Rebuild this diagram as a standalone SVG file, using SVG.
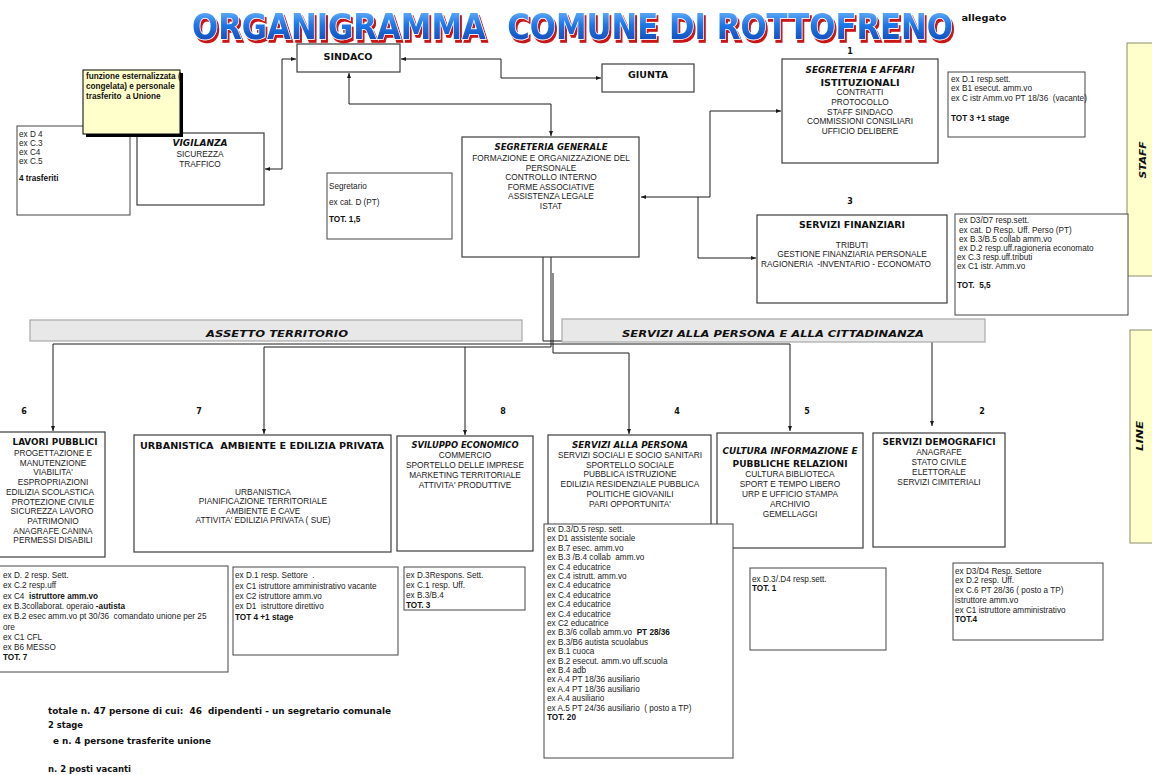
<svg xmlns="http://www.w3.org/2000/svg" width="1152" height="775" viewBox="0 0 1152 775">
<defs>
<linearGradient id="tg" x1="0" y1="0" x2="0" y2="1">
<stop offset="0" stop-color="#7cc2ff"/>
<stop offset="0.45" stop-color="#1f78e8"/>
<stop offset="1" stop-color="#0b3da8"/>
</linearGradient>
<filter id="sh" x="-2%" y="-20%" width="104%" height="150%">
<feOffset in="SourceAlpha" dx="2.2" dy="2.6" result="o"/>
<feFlood flood-color="#c81414"/>
<feComposite in2="o" operator="in" result="s"/>
<feMerge><feMergeNode in="s"/><feMergeNode in="SourceGraphic"/></feMerge>
</filter>
<marker id="ah" viewBox="0 0 10 10" refX="10" refY="5" markerWidth="5" markerHeight="5" markerUnits="userSpaceOnUse" orient="auto-start-reverse">
<path d="M0,1 L10,5 L0,9 z" fill="#1a1a1a"/>
</marker>
<style>
.bx{fill:#fff;stroke:#3c3c3c;stroke-width:1.2}
.sb{fill:#fff;stroke:#444;stroke-width:1}
.bar{fill:#e8e8e8;stroke:#a8a8a8;stroke-width:1.2}
.yel{fill:#ffffcc;stroke:#8c8c6a;stroke-width:1}
.cn{fill:none;stroke:#1a1a1a;stroke-width:1}
.ar{marker-end:url(#ah)}
.ar2{marker-start:url(#ah);marker-end:url(#ah)}
.h{font-family:"DejaVu Sans","Liberation Sans",sans-serif;font-weight:bold;fill:#111;text-anchor:middle;font-size:9px}
.hi{font-style:italic}
.t{font-family:"Liberation Sans",Arial,sans-serif;font-size:8.3px;fill:#222;text-anchor:middle}
.l{font-family:"Liberation Sans",Arial,sans-serif;font-size:8.2px;fill:#222}
.b{font-weight:bold;fill:#111}
.ttl{font-family:"DejaVu Sans","Liberation Sans",sans-serif;font-weight:bold;font-size:36px}
.num{font-family:"DejaVu Sans",sans-serif;font-weight:bold;font-size:8px;fill:#111;text-anchor:middle}
.tot{font-family:"DejaVu Sans",sans-serif;font-weight:bold;font-size:8.5px;fill:#111}
</style>
</defs>
<rect width="1152" height="775" fill="#fff"/>

<g id="title">
<text class="ttl" transform="translate(192,39) scale(0.856,1)" x="0" y="0" fill="url(#tg)" stroke="#ffffff" stroke-width="1.4" paint-order="stroke" filter="url(#sh)" textLength="889" lengthAdjust="spacingAndGlyphs" xml:space="preserve">ORGANIGRAMMA  COMUNE DI ROTTOFRENO</text>
<text class="h" x="984" y="21" font-size="9.5" textLength="45" lengthAdjust="spacingAndGlyphs">allegato</text>
</g>

<g id="staff-band">
<rect class="yel" x="1127" y="43" width="30" height="233"/>
<text class="h hi" transform="translate(1146,160) rotate(-90)" font-size="10.5" textLength="37" lengthAdjust="spacingAndGlyphs">STAFF</text>
</g>
<g id="line-band">
<rect class="yel" x="1130" y="330" width="30" height="213"/>
<text class="h hi" transform="translate(1143,436) rotate(-90)" font-size="10.5" textLength="30" lengthAdjust="spacingAndGlyphs">LINE</text>
</g>

<g id="connectors">
<path class="cn ar2" d="M401,59 H501 V78 H601"/>
<path class="cn ar2" d="M349,73 V104 H551 V136"/>
<path class="cn ar2" d="M296,59 H282 V169 H265"/>
<path class="cn ar2" d="M641,197 H710 V111 H781"/>
<path class="cn ar" d="M698,197 V258 H756"/>
<path class="cn ar" d="M543,253 V341 H932 V426"/>
<path class="cn ar" d="M551,257 V344 H53 V431"/>
<path class="cn ar" d="M551,344 H790 V431"/>
<path class="cn ar" d="M551,344 V347 H264 V434"/>
<path class="cn ar" d="M465,347 V435"/>
<path class="cn ar" d="M553,273 V353 H629 V434"/>
</g>

<g id="sindaco">
<rect class="bx" x="297" y="44" width="103" height="28"/>
<text class="h" x="348" y="60" font-size="9.5" textLength="49" lengthAdjust="spacingAndGlyphs">SINDACO</text>
</g>

<g id="giunta">
<rect class="bx" x="602" y="64" width="92" height="28"/>
<text class="h" x="648" y="78" textLength="40" lengthAdjust="spacingAndGlyphs">GIUNTA</text>
</g>

<g id="trasferiti">
<rect class="sb" x="17" y="126" width="113" height="89"/>
<text class="l" x="19" y="136.5">ex D 4</text>
<text class="l" x="19" y="145.5">ex C.3</text>
<text class="l" x="19" y="154.5">ex C4</text>
<text class="l" x="19" y="163.5">ex C.5</text>
<text class="l b" x="19" y="181">4 trasferiti</text>
</g>

<g id="vigilanza">
<rect class="bx" x="137" y="133" width="127" height="72"/>
<text class="h hi" x="200" y="146" font-size="9.5" textLength="55" lengthAdjust="spacingAndGlyphs">VIGILANZA</text>
<text class="t" x="200" y="157">SICUREZZA</text>
<text class="t" x="200" y="167">TRAFFICO</text>
</g>

<g id="nota-unione">
<rect x="86" y="73" width="97" height="64" fill="#000"/>
<rect x="83" y="70" width="97" height="64" fill="#ffffcc" stroke="#000" stroke-width="1"/>
<text class="l b" x="86" y="78.5" font-size="8">funzione esternalizzata (</text>
<text class="l b" x="86" y="88.5" font-size="8">congelata) e personale</text>
<text class="l b" x="86" y="98.5" font-size="8" xml:space="preserve">trasferito  a Unione</text>
</g>

<g id="segretario">
<rect class="sb" x="327" y="173" width="125" height="66"/>
<text class="l" x="329" y="189" font-size="8.7">Segretario</text>
<text class="l" x="329" y="205" font-size="8.7">ex cat. D (PT)</text>
<text class="l b" x="329" y="222" font-size="8.7">TOT. 1,5</text>
</g>

<g id="segreteria-generale">
<rect class="bx" x="462" y="137" width="177" height="120"/>
<text class="h hi" x="551" y="150" font-size="9.5" textLength="113" lengthAdjust="spacingAndGlyphs">SEGRETERIA GENERALE</text>
<text class="t" x="551" y="161">FORMAZIONE E ORGANIZZAZIONE DEL</text>
<text class="t" x="551" y="170.6">PERSONALE</text>
<text class="t" x="551" y="180.2">CONTROLLO INTERNO</text>
<text class="t" x="551" y="189.8">FORME ASSOCIATIVE</text>
<text class="t" x="551" y="199.4">ASSISTENZA LEGALE</text>
<text class="t" x="551" y="209">ISTAT</text>
</g>

<g id="segreteria-affari">
<text class="num" x="850" y="54">1</text>
<rect class="bx" x="782" y="59" width="156" height="104"/>
<text class="h hi" x="860" y="73" font-size="10" textLength="109" lengthAdjust="spacingAndGlyphs">SEGRETERIA E AFFARI</text>
<text class="h" x="860" y="85.5" font-size="10" textLength="79" lengthAdjust="spacingAndGlyphs">ISTITUZIONALI</text>
<text class="t" x="860" y="95">CONTRATTI</text>
<text class="t" x="860" y="104.8">PROTOCOLLO</text>
<text class="t" x="860" y="114.6">STAFF SINDACO</text>
<text class="t" x="860" y="124.4">COMMISSIONI CONSILIARI</text>
<text class="t" x="860" y="134.2">UFFICIO DELIBERE</text>
</g>

<g id="staff-affari">
<rect class="sb" x="948" y="72" width="137" height="65"/>
<text class="l" x="951" y="82" font-size="7.9">ex D.1 resp.sett.</text>
<text class="l" x="951" y="91" font-size="7.9">ex B1 esecut. amm.vo</text>
<text class="l" x="951" y="100.5" font-size="7.9" xml:space="preserve">ex C istr Amm.vo PT 18/36  (vacante)</text>
<text class="l b" x="951" y="121" font-size="7.9">TOT 3 +1 stage</text>
</g>

<g id="servizi-finanziari">
<text class="num" x="850" y="204">3</text>
<rect class="bx" x="757" y="215" width="190" height="88"/>
<text class="h" x="852" y="228" font-size="10" textLength="106" lengthAdjust="spacingAndGlyphs">SERVIZI FINANZIARI</text>
<text class="t" x="852" y="247.5">TRIBUTI</text>
<text class="t" x="852" y="257">GESTIONE FINANZIARIA PERSONALE</text>
<text class="t" x="846" y="266.5" xml:space="preserve">RAGIONERIA  -INVENTARIO - ECONOMATO</text>
</g>

<g id="staff-finanziari">
<rect class="sb" x="955" y="214" width="173" height="101"/>
<text class="l" x="959" y="223">ex D3/D7 resp.sett.</text>
<text class="l" x="959" y="233">ex cat. D Resp. Uff. Perso (PT)</text>
<text class="l" x="959" y="242">ex B.3/B.5 collab amm.vo</text>
<text class="l" x="959" y="251">ex D.2 resp.uff.ragioneria economato</text>
<text class="l" x="957" y="260">ex C.3 resp.uff.tributi</text>
<text class="l" x="957" y="269">ex C1 istr. Amm.vo</text>
<text class="l b" x="957" y="288" xml:space="preserve">TOT.  5,5</text>
</g>

<g id="assetto-territorio">
<rect class="bar" x="30" y="320" width="492" height="21"/>
<text class="h hi" x="277" y="337" font-size="11" textLength="142" lengthAdjust="spacingAndGlyphs">ASSETTO TERRITORIO</text>
</g>

<g id="servizi-cittadinanza">
<rect class="bar" x="562" y="319" width="423" height="23"/>
<text class="h hi" x="773" y="337" font-size="11" textLength="302" lengthAdjust="spacingAndGlyphs">SERVIZI ALLA PERSONA E ALLA CITTADINANZA</text>
</g>

<g id="numeri">
<text class="num" x="24" y="414">6</text>
<text class="num" x="199" y="414">7</text>
<text class="num" x="503" y="414">8</text>
<text class="num" x="677" y="414">4</text>
<text class="num" x="807" y="414">5</text>
<text class="num" x="982" y="414">2</text>
</g>

<g id="lavori-pubblici">
<rect class="bx" x="-10" y="432" width="115" height="125"/>
<text class="h" x="55" y="445" textLength="85" lengthAdjust="spacingAndGlyphs">LAVORI PUBBLICI</text>
<text class="t" x="53" y="456">PROGETTAZIONE E</text>
<text class="t" x="53" y="465.7">MANUTENZIONE</text>
<text class="t" x="53" y="475.4">VIABILITA'</text>
<text class="t" x="53" y="485.1">ESPROPRIAZIONI</text>
<text class="t" x="50" y="494.8">EDILIZIA SCOLASTICA</text>
<text class="t" x="53" y="504.5">PROTEZIONE CIVILE</text>
<text class="t" x="52" y="514.2">SICUREZZA LAVORO</text>
<text class="t" x="53" y="523.9">PATRIMONIO</text>
<text class="t" x="53" y="533.6">ANAGRAFE CANINA</text>
<text class="t" x="53" y="543.3">PERMESSI DISABILI</text>
</g>

<g id="personale-lavori">
<rect class="sb" x="-10" y="566" width="238" height="106"/>
<text class="l" x="3" y="578">ex D. 2 resp. Sett.</text>
<text class="l" x="3" y="588.3">ex C.2 resp.uff</text>
<text class="l" x="3" y="598.6" xml:space="preserve">ex C4  <tspan class="b">istruttore amm.vo</tspan></text>
<text class="l" x="3" y="608.9">ex B.3collaborat. operaio <tspan class="b">-autista</tspan></text>
<text class="l" x="3" y="619.2" xml:space="preserve">ex B.2 esec amm.vo pt 30/36  comandato unione per 25</text>
<text class="l" x="3" y="629.5">ore</text>
<text class="l" x="3" y="639.8">ex C1 CFL</text>
<text class="l" x="3" y="650.1">ex B6 MESSO</text>
<text class="l b" x="3" y="660.4">TOT. 7</text>
</g>

<g id="urbanistica">
<rect class="bx" x="134" y="435" width="257" height="117"/>
<text class="h" x="262" y="449" font-size="8.7" textLength="244" lengthAdjust="spacingAndGlyphs" xml:space="preserve">URBANISTICA  AMBIENTE E EDILIZIA PRIVATA</text>
<text class="t" x="263" y="494.5">URBANISTICA</text>
<text class="t" x="263" y="504">PIANIFICAZIONE TERRITORIALE</text>
<text class="t" x="263" y="513.5">AMBIENTE E CAVE</text>
<text class="t" x="263" y="523">ATTIVITA' EDILIZIA PRIVATA ( SUE)</text>
</g>

<g id="personale-urbanistica">
<rect class="sb" x="233" y="567" width="165" height="88"/>
<text class="l" x="235" y="578" xml:space="preserve">ex D.1 resp. Settore  .</text>
<text class="l" x="235" y="588.5">ex C1 istruttore amministrativo vacante</text>
<text class="l" x="235" y="598.7">ex C2 istruttore amm.vo</text>
<text class="l" x="235" y="608.8" xml:space="preserve">ex D1  istruttore direttivo</text>
<text class="l b" x="235" y="619.5">TOT 4 +1 stage</text>
</g>

<g id="sviluppo-economico">
<rect class="bx" x="397" y="436" width="136" height="115"/>
<text class="h hi" x="465" y="448" textLength="107" lengthAdjust="spacingAndGlyphs">SVILUPPO ECONOMICO</text>
<text class="t" x="465" y="458">COMMERCIO</text>
<text class="t" x="465" y="468">SPORTELLO DELLE IMPRESE</text>
<text class="t" x="465" y="478">MARKETING TERRITORIALE</text>
<text class="t" x="465" y="487.5">ATTIVITA' PRODUTTIVE</text>
</g>

<g id="personale-sviluppo">
<rect class="sb" x="404" y="567" width="121" height="43"/>
<text class="l" x="406" y="578">ex D.3Respons. Sett.</text>
<text class="l" x="406" y="588">ex C.1 resp. Uff.</text>
<text class="l" x="406" y="598">ex B.3/B.4</text>
<text class="l b" x="406" y="607.5">TOT. 3</text>
</g>

<g id="servizi-persona">
<rect class="bx" x="548" y="435" width="163" height="115"/>
<text class="h hi" x="630" y="448" textLength="116" lengthAdjust="spacingAndGlyphs">SERVIZI ALLA PERSONA</text>
<text class="t" x="630" y="457.5">SERVIZI SOCIALI E SOCIO SANITARI</text>
<text class="t" x="630" y="467.5">SPORTELLO SOCIALE</text>
<text class="t" x="630" y="477">PUBBLICA ISTRUZIONE</text>
<text class="t" x="630" y="487">EDILIZIA RESIDENZIALE PUBBLICA</text>
<text class="t" x="630" y="497">POLITICHE GIOVANILI</text>
<text class="t" x="630" y="507">PARI OPPORTUNITA'</text>
</g>

<g id="cultura">
<rect class="bx" x="717" y="433" width="146" height="115"/>
<text class="h hi" x="790" y="454" textLength="135" lengthAdjust="spacingAndGlyphs">CULTURA INFORMAZIONE E</text>
<text class="h" x="790" y="467" textLength="115" lengthAdjust="spacingAndGlyphs">PUBBLICHE RELAZIONI</text>
<text class="t" x="790" y="477">CULTURA BIBLIOTECA</text>
<text class="t" x="790" y="487">SPORT E TEMPO LIBERO</text>
<text class="t" x="790" y="497">URP E UFFICIO STAMPA</text>
<text class="t" x="790" y="507">ARCHIVIO</text>
<text class="t" x="790" y="517">GEMELLAGGI</text>
</g>

<g id="personale-persona">
<rect class="sb" x="544" y="524" width="189" height="234"/>
<text class="l" x="547" y="532">ex D.3/D.5 resp. sett.</text>
<text class="l" x="547" y="541.4">ex D1 assistente sociale</text>
<text class="l" x="547" y="550.8">ex B.7 esec. amm.vo</text>
<text class="l" x="547" y="560.2" xml:space="preserve">ex B.3 /B.4 collab  amm.vo</text>
<text class="l" x="547" y="569.6">ex C.4 educatrice</text>
<text class="l" x="547" y="579">ex C.4 istrutt. amm.vo</text>
<text class="l" x="547" y="588.4">ex C.4 educatrice</text>
<text class="l" x="547" y="597.8">ex C.4 educatrice</text>
<text class="l" x="547" y="607.2">ex C.4 educatrice</text>
<text class="l" x="547" y="616.6">ex C.4 educatrice</text>
<text class="l" x="547" y="626">ex C2 educatrice</text>
<text class="l" x="547" y="635.4" xml:space="preserve">ex B.3/6 collab amm.vo  <tspan class="b">PT 28/36</tspan></text>
<text class="l" x="547" y="644.8">ex B.3/B6 autista scuolabus</text>
<text class="l" x="547" y="654.2">ex B.1 cuoca</text>
<text class="l" x="547" y="663.6">ex B.2 esecut. amm.vo uff.scuola</text>
<text class="l" x="547" y="673">ex B.4 adb</text>
<text class="l" x="547" y="682.4">ex A.4 PT 18/36 ausiliario</text>
<text class="l" x="547" y="691.8">ex A.4 PT 18/36 ausiliario</text>
<text class="l" x="547" y="701.2">ex A.4 ausiliario</text>
<text class="l" x="547" y="710.6" xml:space="preserve">ex A.5 PT 24/36 ausiliario  ( posto a TP)</text>
<text class="l b" x="547" y="720">TOT. 20</text>
</g>

<g id="personale-cultura">
<rect class="sb" x="750" y="568" width="136" height="82"/>
<text class="l" x="752" y="582">ex D.3/.D4 resp.sett.</text>
<text class="l b" x="752" y="591">TOT. 1</text>
</g>

<g id="servizi-demografici">
<rect class="bx" x="873" y="433" width="132" height="114"/>
<text class="h" x="939" y="444.5" textLength="113" lengthAdjust="spacingAndGlyphs">SERVIZI DEMOGRAFICI</text>
<text class="t" x="939" y="455">ANAGRAFE</text>
<text class="t" x="939" y="465">STATO CIVILE</text>
<text class="t" x="939" y="475">ELETTORALE</text>
<text class="t" x="939" y="485">SERVIZI CIMITERIALI</text>
</g>

<g id="personale-demografici">
<rect class="sb" x="953" y="563" width="150" height="77"/>
<text class="l" x="955" y="573.5">ex D3/D4 Resp. Settore</text>
<text class="l" x="955" y="583.3">ex D.2 resp. Uff.</text>
<text class="l" x="955" y="593">ex C.6 PT 28/36 ( posto a TP)</text>
<text class="l" x="955" y="602.8">istruttore amm.vo</text>
<text class="l" x="955" y="612.6">ex C1 istruttore amministrativo</text>
<text class="l b" x="955" y="622.4">TOT.4</text>
</g>

<g id="totali">
<text class="tot" x="48" y="714" textLength="343" lengthAdjust="spacingAndGlyphs" xml:space="preserve">totale n. 47 persone di cui:  46  dipendenti - un segretario comunale</text>
<text class="tot" x="48" y="728" textLength="35" lengthAdjust="spacingAndGlyphs">2 stage</text>
<text class="tot" x="53" y="744" textLength="158" lengthAdjust="spacingAndGlyphs">e n. 4 persone trasferite unione</text>
<text class="tot" x="48" y="772" font-size="6.5" textLength="83" lengthAdjust="spacingAndGlyphs">n. 2 posti vacanti</text>
</g>
</svg>
